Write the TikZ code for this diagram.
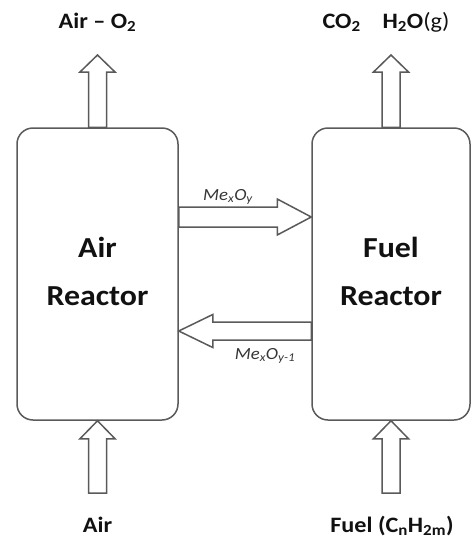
\documentclass[tikz,border=0pt]{standalone}
\usepackage{fontspec}
\setmainfont{Carlito}
\newfontfamily\labfont[FakeStretch=1.1]{Carlito}
\usetikzlibrary{calc}
\definecolor{linegray}{HTML}{5A5A5A}
\definecolor{textblack}{HTML}{111111}
% block arrow: #1 start, #2 tip, #3 shaft half width, #4 head half width, #5 head length
\newcommand\blockarrow[5]{%
  \coordinate (ba-s) at (#1);
  \coordinate (ba-t) at (#2);
  \coordinate (ba-h) at ($(ba-t)!#5!(ba-s)$);
  \draw[blockline] ($(ba-s)!#3!90:(ba-t)$) -- ($(ba-h)!#3!-90:(ba-s)$)
    -- ($(ba-h)!#4!-90:(ba-s)$) -- (ba-t) -- ($(ba-h)!#4!90:(ba-s)$)
    -- ($(ba-h)!#3!90:(ba-s)$) -- ($(ba-s)!#3!-90:(ba-t)$) -- cycle;
}
\tikzset{
  reactor/.style={draw=linegray, line width=1.5pt, rounded corners=16pt,
    minimum height=292pt, align=center, text=textblack, inner sep=0pt,
    font=\labfont\bfseries\fontsize{29}{48}\selectfont},
  flowlabel/.style={font=\labfont\bfseries\fontsize{22}{24}\selectfont,
    text=textblack, anchor=base, inner sep=0pt},
  carrierlabel/.style={font=\labfont\itshape\fontsize{17}{20}\selectfont,
    text=textblack!85, anchor=base, inner sep=0pt},
  blockline/.style={draw=linegray, line width=1.5pt, fill=white, line join=miter},
}
\begin{document}
\begin{tikzpicture}[x=1pt, y=-1pt]
\useasboundingbox (0,0) rectangle (475,541);

\node[reactor, minimum width=161pt] (air) at (97.5,274) {Air\\Reactor\\[-42pt]};
\node[reactor, minimum width=158pt] (fuel) at (391,274) {Fuel\\Reactor\\[-42pt]};

\coordinate (airout) at (air.north |- 0,55);
\coordinate (fuelout) at (fuel.north |- 0,55);
\coordinate (airin) at (air.south |- 0,493);
\coordinate (fuelin) at (fuel.south |- 0,493);
\coordinate (oxa) at (air.east |- 0,217);
\coordinate (oxf) at (fuel.west |- 0,217);
\coordinate (rda) at (air.east |- 0,331);
\coordinate (rdf) at (fuel.west |- 0,331);

\blockarrow{air.north}{airout}{9pt}{17.5pt}{17pt}
\blockarrow{fuel.north}{fuelout}{9pt}{17.5pt}{17pt}
\blockarrow{airin}{air.south}{9pt}{17.5pt}{18pt}
\blockarrow{fuelin}{fuel.south}{9pt}{17.5pt}{18pt}
\blockarrow{oxa}{oxf}{10pt}{18pt}{34pt}
\blockarrow{rdf}{rda}{9pt}{16.5pt}{34pt}

\node[flowlabel] (lairout) at (97.5,28) {Air – O\textsubscript{2}};
\node[flowlabel] (lfuelout) at (386,28) {CO\textsubscript{2}\quad H\textsubscript{2}O\mdseries(g)};
\node[flowlabel] (lairin) at (97.5,532) {Air};
\node[flowlabel] (lfuelin) at (392,532) {Fuel (C\textsubscript{n}H\textsubscript{2m})};

\node[carrierlabel] (lox) at (228,200) {Me\textsubscript{x}O\textsubscript{y}};
\node[carrierlabel] (lrd) at (265,359) {Me\textsubscript{x}O\textsubscript{y-1}};
\end{tikzpicture}
\end{document}
